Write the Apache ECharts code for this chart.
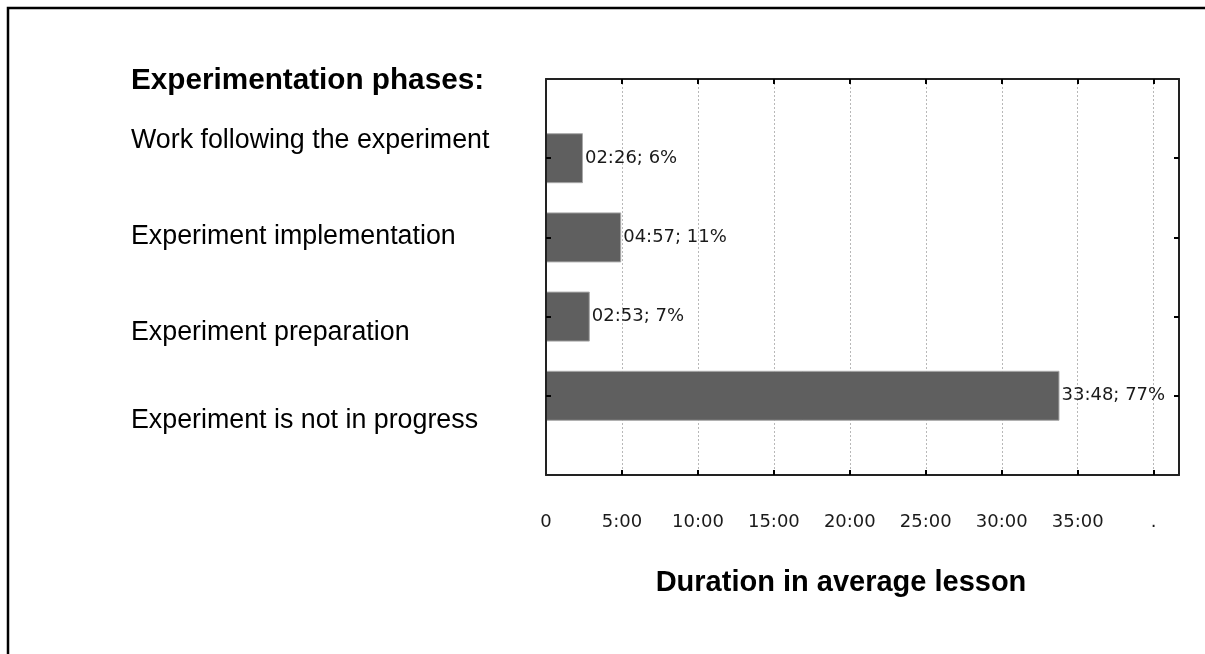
<!DOCTYPE html>
<html>
<head>
<meta charset="utf-8">
<script src="https://cdn.jsdelivr.net/npm/echarts@6/dist/echarts.min.js"></script>
<style>
html,body{margin:0;padding:0;background:#fff;}
#c{width:1205px;height:654px;}
</style>
</head>
<body>
<div id="c"></div>
<script>
// Data
const categories = ['Work following the experiment', 'Experiment implementation', 'Experiment preparation', 'Experiment is not in progress'];
const durationsSec = [146, 297, 173, 2028];   // 02:26, 04:57, 02:53, 33:48
const percents = [6, 11, 7, 77];
const panelTitle = 'Experimentation phases:';
const axisTitle = 'Duration in average lesson';
const tickStep = 300; // 5:00

function mmss(s) {
  const m = Math.floor(s / 60), r = Math.round(s % 60);
  return String(m).padStart(2, '0') + ':' + String(r).padStart(2, '0');
}
function tickLabel(v) {
  if (v === 0) return '0';
  if (v === 2400) return '.';
  if (v > 2400) return '';
  return Math.floor(v / 60) + ':' + String(v % 60).padStart(2, '0');
}

const yCats = [''].concat(categories, ['']);
const barData = [null].concat(durationsSec, [null]);

const chart = echarts.init(document.getElementById('c'), null, {renderer: 'canvas'});

const labelYs = [141, 237, 333, 421];
const graphics = [
  {type: 'rect', shape: {x: 8, y: 8, width: 1400, height: 900}, style: {fill: 'none', stroke: '#000', lineWidth: 2.5}, silent: true},
  {type: 'text', x: 131, y: 81, style: {text: panelTitle, font: 'bold 29.7px "Liberation Sans", Arial, sans-serif', fill: '#000', textVerticalAlign: 'middle'}},
  {type: 'text', x: 841, y: 583, style: {text: axisTitle, font: 'bold 29px "Liberation Sans", Arial, sans-serif', fill: '#000', textAlign: 'center', textVerticalAlign: 'middle'}}
];
categories.forEach((c, i) => {
  graphics.push({type: 'text', x: 131, y: labelYs[i], style: {text: c, font: '26.8px "Liberation Sans", Arial, sans-serif', fill: '#000', textVerticalAlign: 'middle'}});
});

const xBase = {
  type: 'value', min: 0, max: 2500, interval: tickStep,
  axisLine: {show: true, onZero: false, lineStyle: {color: '#222', width: 2}},
  axisTick: {show: true, inside: true, length: 5, lineStyle: {color: '#000', width: 2}}
};
const yTick = {show: true, inside: true, length: 5, interval: (i) => i > 0 && i < 5, lineStyle: {color: '#000', width: 2}};

const valueFont = '"DejaVu Sans", Verdana, sans-serif';

chart.setOption({
  animation: false,
  backgroundColor: '#fff',
  graphic: graphics,
  grid: {left: 546, top: 79, right: 26, bottom: 179, containLabel: false},
  xAxis: [
    Object.assign({}, xBase, {
      position: 'bottom',
      axisLabel: {show: true, formatter: tickLabel, color: '#1a1a1a', fontSize: 18, fontFamily: valueFont, margin: 38, showMaxLabel: false},
      splitLine: {show: true, lineStyle: {color: '#b8b8b8', type: [2, 2], width: 1}}
    }),
    Object.assign({}, xBase, {
      position: 'top',
      axisLabel: {show: false},
      splitLine: {show: false}
    })
  ],
  yAxis: [
    {
      type: 'category', data: yCats, inverse: true, boundaryGap: false, position: 'left', z: 5,
      axisLine: {show: true, onZero: false, lineStyle: {color: '#222', width: 2}},
      axisTick: yTick,
      axisLabel: {show: false}, splitLine: {show: false}
    },
    {
      type: 'category', data: yCats, inverse: true, boundaryGap: false, position: 'right', z: 5,
      axisLine: {show: true, onZero: false, lineStyle: {color: '#222', width: 2}},
      axisTick: yTick,
      axisLabel: {show: false}, splitLine: {show: false}
    }
  ],
  series: [{
    type: 'bar',
    xAxisIndex: 0, yAxisIndex: 0,
    data: barData,
    barWidth: 50,
    itemStyle: {color: '#5f5f5f', borderColor: '#a8a8a8', borderWidth: 1},
    label: {
      show: true, position: 'right', distance: 2,
      color: '#1a1a1a', fontSize: 18, fontFamily: valueFont,
      formatter: p => mmss(p.value) + '; ' + percents[p.dataIndex - 1] + '%'
    }
  }]
});
</script>
</body>
</html>
